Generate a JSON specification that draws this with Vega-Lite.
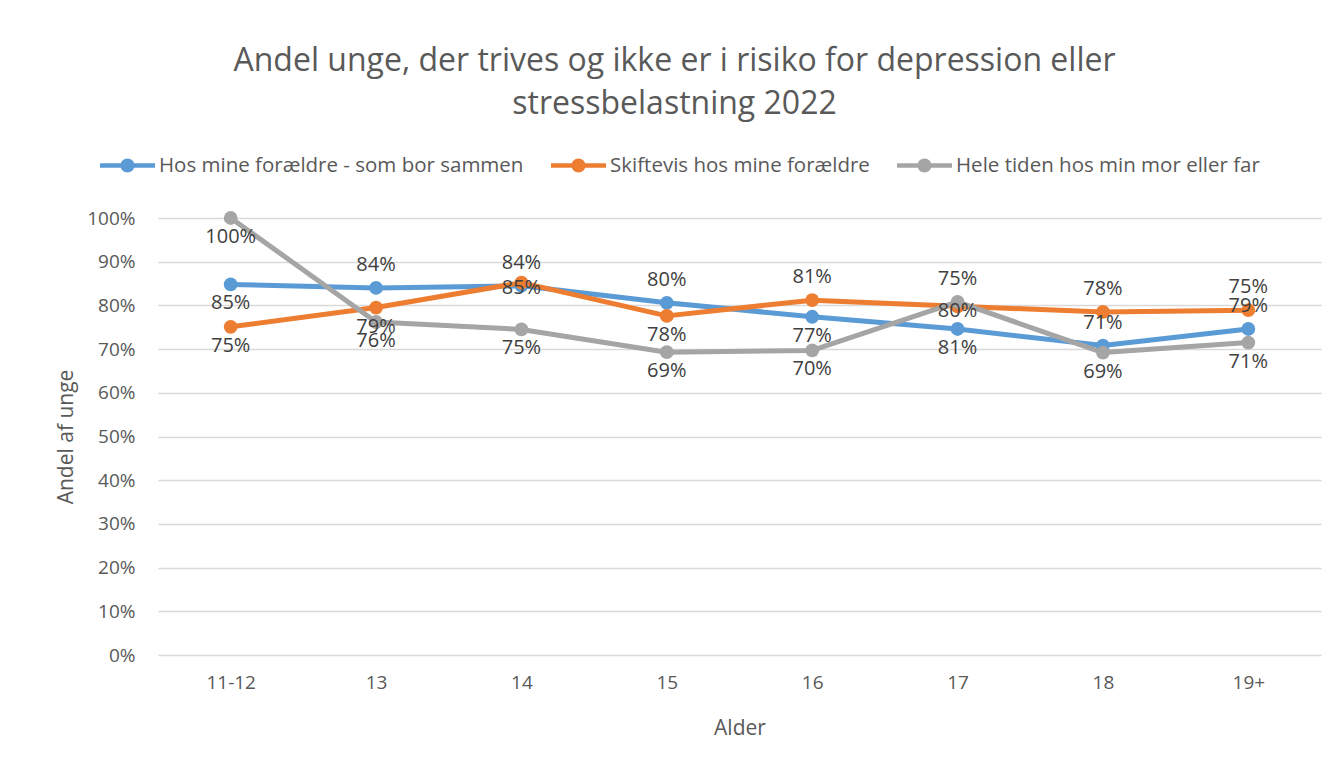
{
  "$schema": "https://vega.github.io/schema/vega-lite/v6.json",
  "width": 1163,
  "height": 437,
  "autosize": {"type": "none"},
  "padding": {"left": 158, "top": 218, "right": 19, "bottom": 110},
  "background": "white",
  "title": {
    "text": ["Andel unge, der trives og ikke er i risiko for depression eller", "stressbelastning 2022"],
    "anchor": "middle",
    "frame": "group",
    "dx": -65,
    "offset": 17,
    "font": "Open Sans",
    "fontSize": 32,
    "fontWeight": "normal",
    "color": "#595959",
    "lineHeight": 43
  },
  "datasets": {
    "points": [
      {"age": "11-12", "series": "Hos mine forældre - som bor sammen", "value": 84.8, "label": "85%", "pos": "below"},
      {"age": "13", "series": "Hos mine forældre - som bor sammen", "value": 84.0, "label": "84%", "pos": "above"},
      {"age": "14", "series": "Hos mine forældre - som bor sammen", "value": 84.5, "label": "84%", "pos": "above"},
      {"age": "15", "series": "Hos mine forældre - som bor sammen", "value": 80.6, "label": "80%", "pos": "above"},
      {"age": "16", "series": "Hos mine forældre - som bor sammen", "value": 77.4, "label": "77%", "pos": "below"},
      {"age": "17", "series": "Hos mine forældre - som bor sammen", "value": 74.6, "label": "81%", "pos": "below"},
      {"age": "18", "series": "Hos mine forældre - som bor sammen", "value": 70.8, "label": "71%", "pos": "above"},
      {"age": "19+", "series": "Hos mine forældre - som bor sammen", "value": 74.6, "label": "79%", "pos": "above"},
      {"age": "11-12", "series": "Skiftevis hos mine forældre", "value": 75.1, "label": "75%", "pos": "below"},
      {"age": "13", "series": "Skiftevis hos mine forældre", "value": 79.5, "label": "79%", "pos": "below"},
      {"age": "14", "series": "Skiftevis hos mine forældre", "value": 85.2, "label": "85%", "pos": "center"},
      {"age": "15", "series": "Skiftevis hos mine forældre", "value": 77.6, "label": "78%", "pos": "below"},
      {"age": "16", "series": "Skiftevis hos mine forældre", "value": 81.2, "label": "81%", "pos": "above"},
      {"age": "17", "series": "Skiftevis hos mine forældre", "value": 79.8, "label": "80%", "pos": "center"},
      {"age": "18", "series": "Skiftevis hos mine forældre", "value": 78.5, "label": "78%", "pos": "above"},
      {"age": "19+", "series": "Skiftevis hos mine forældre", "value": 78.9, "label": "75%", "pos": "above"},
      {"age": "11-12", "series": "Hele tiden hos min mor eller far", "value": 100.0, "label": "100%", "pos": "below"},
      {"age": "13", "series": "Hele tiden hos min mor eller far", "value": 76.2, "label": "76%", "pos": "below"},
      {"age": "14", "series": "Hele tiden hos min mor eller far", "value": 74.5, "label": "75%", "pos": "below"},
      {"age": "15", "series": "Hele tiden hos min mor eller far", "value": 69.3, "label": "69%", "pos": "below"},
      {"age": "16", "series": "Hele tiden hos min mor eller far", "value": 69.7, "label": "70%", "pos": "below"},
      {"age": "17", "series": "Hele tiden hos min mor eller far", "value": 80.8, "label": "75%", "pos": "above"},
      {"age": "18", "series": "Hele tiden hos min mor eller far", "value": 69.2, "label": "69%", "pos": "below"},
      {"age": "19+", "series": "Hele tiden hos min mor eller far", "value": 71.5, "label": "71%", "pos": "below"}
    ]
  },
  "data": {"name": "points"},
  "encoding": {
    "x": {
      "field": "age",
      "type": "ordinal",
      "sort": ["11-12", "13", "14", "15", "16", "17", "18", "19+"],
      "scale": {"type": "point", "padding": 0.5},
      "axis": {
        "title": "Alder",
        "labelAngle": 0,
        "domain": false,
        "ticks": false,
        "grid": false,
        "labelPadding": 18,
        "titlePadding": 25
      }
    },
    "y": {
      "field": "value",
      "type": "quantitative",
      "scale": {"domain": [0, 100], "nice": false, "zero": true},
      "axis": {
        "title": "Andel af unge",
        "values": [0, 10, 20, 30, 40, 50, 60, 70, 80, 90, 100],
        "labelExpr": "datum.value + '%'",
        "domain": false,
        "ticks": false,
        "grid": true,
        "labelPadding": 23,
        "titlePadding": 10
      }
    }
  },
  "layer": [
    {
      "mark": {"type": "line", "strokeWidth": 5, "strokeCap": "round", "strokeJoin": "round"},
      "encoding": {
        "color": {
          "field": "series",
          "type": "nominal",
          "sort": ["Hos mine forældre - som bor sammen", "Skiftevis hos mine forældre", "Hele tiden hos min mor eller far"],
          "scale": {
            "domain": ["Hos mine forældre - som bor sammen", "Skiftevis hos mine forældre", "Hele tiden hos min mor eller far"],
            "range": ["#5B9BD5", "#ED7D31", "#A5A5A5"]
          },
          "legend": {
            "title": null,
            "orient": "none",
            "direction": "horizontal",
            "legendX": -58,
            "legendY": -80,
            "symbolType": "M-1,-0.082H1V0.082H-1Z M-0.255,0A0.255,0.255,0,1,1,0.255,0A0.255,0.255,0,1,1,-0.255,0Z",
            "symbolSize": 3025,
            "symbolStrokeWidth": 0,
            "labelOffset": 4,
            "columnPadding": 27,
            "labelFont": "Open Sans",
            "labelFontSize": 20.5,
            "labelColor": "#595959",
            "labelLimit": 600,
            "encode": {
              "symbols": {
                "update": {
                  "fill": {"scale": "color", "field": "value"},
                  "stroke": {"value": "transparent"},
                  "fillOpacity": {"value": 1}
                }
              }
            }
          }
        },
        "order": {"field": "age"}
      }
    },
    {
      "mark": {"type": "point", "filled": true, "size": 190, "opacity": 1},
      "encoding": {
        "color": {"field": "series", "type": "nominal", "sort": ["Hos mine forældre - som bor sammen", "Skiftevis hos mine forældre", "Hele tiden hos min mor eller far"]}
      }
    },
    {
      "transform": [{"filter": "datum.pos === 'above'"}],
      "mark": {"type": "text", "dy": -23, "baseline": "middle", "align": "center", "font": "Open Sans", "fontSize": 20, "color": "#404040"},
      "encoding": {"text": {"field": "label"}}
    },
    {
      "transform": [{"filter": "datum.pos === 'below'"}],
      "mark": {"type": "text", "dy": 19, "baseline": "middle", "align": "center", "font": "Open Sans", "fontSize": 20, "color": "#404040"},
      "encoding": {"text": {"field": "label"}}
    },
    {
      "transform": [{"filter": "datum.pos === 'center'"}],
      "mark": {"type": "text", "dy": 5, "baseline": "middle", "align": "center", "font": "Open Sans", "fontSize": 20, "color": "#404040"},
      "encoding": {"text": {"field": "label"}}
    }
  ],
  "config": {
    "view": {"stroke": null},
    "axis": {
      "labelFont": "Open Sans",
      "labelFontSize": 19,
      "labelColor": "#595959",
      "titleFont": "Open Sans",
      "titleFontSize": 21,
      "titleFontWeight": "normal",
      "titleColor": "#595959",
      "gridColor": "#D9D9D9",
      "gridWidth": 1.5
    }
  }
}
